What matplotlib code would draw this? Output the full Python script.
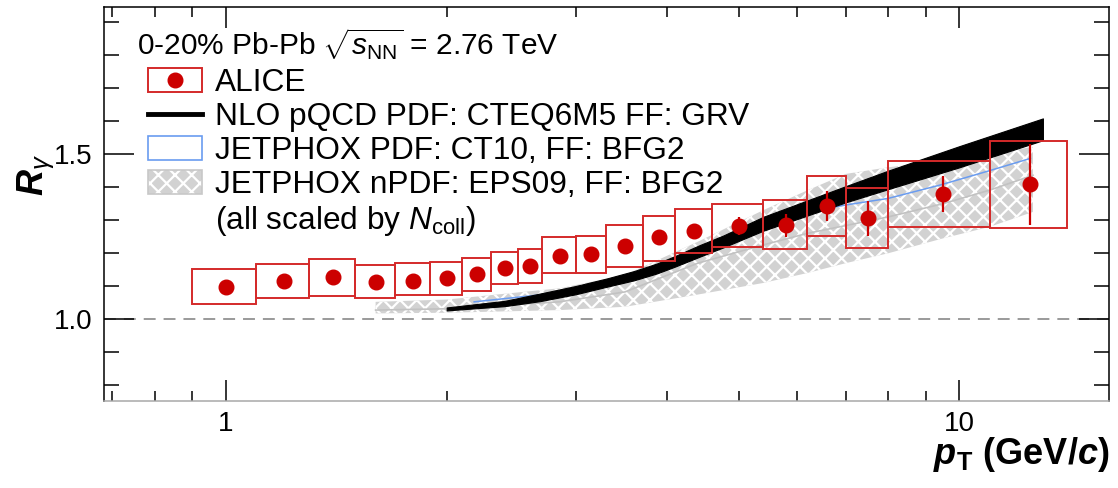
import matplotlib
matplotlib.use("Agg")
import matplotlib.pyplot as plt
import matplotlib.ticker as ticker
import numpy as np
from matplotlib.lines import Line2D
from matplotlib.patches import Rectangle

# ALICE direct photon R_gamma, 0-20% Pb-Pb
pt = [1.0, 1.2, 1.4, 1.6, 1.8, 2.0, 2.2, 2.4, 2.6, 2.85,
      3.15, 3.5, 3.9, 4.35, 5.0, 5.8, 6.6, 7.5, 9.5, 12.5]
r_gamma = [1.099, 1.116, 1.128, 1.112, 1.117, 1.124, 1.137, 1.156, 1.161, 1.192,
           1.197, 1.223, 1.248, 1.267, 1.283, 1.285, 1.343, 1.306, 1.379, 1.409]
stat_err = [0.004, 0.004, 0.004, 0.004, 0.005, 0.005, 0.006, 0.007, 0.008, 0.009,
            0.010, 0.012, 0.015, 0.022, 0.028, 0.035, 0.045, 0.053, 0.055, 0.123]
sys_low = [1.045, 1.064, 1.071, 1.064, 1.074, 1.074, 1.086, 1.106, 1.111, 1.141,
           1.139, 1.157, 1.178, 1.202, 1.220, 1.213, 1.252, 1.215, 1.279, 1.277]
sys_high = [1.151, 1.168, 1.183, 1.164, 1.172, 1.173, 1.185, 1.204, 1.212, 1.248,
            1.253, 1.285, 1.313, 1.333, 1.348, 1.361, 1.434, 1.396, 1.479, 1.540]
bin_edges = [0.9, 1.1, 1.3, 1.5, 1.7, 1.9, 2.1, 2.3, 2.5, 2.7, 3.0,
             3.3, 3.7, 4.1, 4.6, 5.4, 6.2, 7.0, 8.0, 11.0, 14.0]

# NLO pQCD (CTEQ6M5, GRV) band
nlo_pt = [2.0, 2.4, 2.68, 3.0, 3.31, 3.6, 3.87, 4.1, 4.43, 4.77, 5.4, 7.0, 8.0, 10.0, 13.0]
nlo_low = [1.027, 1.040, 1.055, 1.076, 1.099, 1.118, 1.139, 1.160, 1.190, 1.218,
           1.268, 1.354, 1.394, 1.460, 1.542]
nlo_high = [1.036, 1.056, 1.078, 1.101, 1.124, 1.146, 1.169, 1.192, 1.225, 1.254,
            1.310, 1.403, 1.450, 1.524, 1.608]

# JETPHOX CT10, BFG2
ct10_pt = [2.18, 2.68, 3.31, 3.87, 4.62, 5.4, 6.2, 7.0, 8.0, 9.4, 11.0, 12.5]
ct10_r = [1.053, 1.074, 1.109, 1.149, 1.220, 1.280, 1.325, 1.346, 1.366, 1.406, 1.450, 1.487]

# JETPHOX nPDF EPS09, BFG2 band and central curve
eps_pt = [1.6, 2.0, 2.85, 3.5, 4.4, 5.4, 6.2, 7.0, 8.0, 9.5, 11.0, 12.6]
eps_low = [1.018, 1.020, 1.028, 1.038, 1.075, 1.110, 1.140, 1.170, 1.200, 1.245, 1.280, 1.325]
eps_high = [1.053, 1.060, 1.094, 1.134, 1.235, 1.330, 1.390, 1.440, 1.460, 1.480, 1.500, 1.522]
eps_mid_pt = [1.6, 2.0, 2.85, 3.5, 4.4, 5.4, 6.2, 8.0, 9.5, 11.0, 12.6]
eps_mid = [1.028, 1.032, 1.053, 1.083, 1.170, 1.225, 1.260, 1.310, 1.350, 1.391, 1.436]

red = "#cc0000"
box_red = "#d42a2a"
blue = "#6a9cf0"
gray = "#d2d2d2"

plt.rcParams["font.family"] = "Liberation Sans"
plt.rcParams["mathtext.fontset"] = "custom"
plt.rcParams["mathtext.rm"] = "Liberation Sans"
plt.rcParams["mathtext.it"] = "Liberation Sans:italic"
plt.rcParams["mathtext.bf"] = "Liberation Sans:italic:bold"
plt.rcParams["mathtext.sf"] = "Liberation Sans:bold"
plt.rcParams["hatch.linewidth"] = 1.6

fig = plt.figure(figsize=(11.18, 4.88), dpi=100)
ax = fig.add_axes([0.0926, 0.1783, 0.8994, 0.808])

# theory curves
ax.fill_between(eps_pt, eps_low, eps_high, facecolor=gray, edgecolor="white",
                hatch="xx", linewidth=0, zorder=1)
ax.plot(eps_mid_pt, eps_mid, color="#c2c2c2", lw=1.2, zorder=2)
ax.plot(ct10_pt, ct10_r, color=blue, lw=1.1, zorder=3)
ax.fill_between(nlo_pt, nlo_low, nlo_high, color="black", lw=0.8, zorder=4)

ax.axhline(1.0, color="#7f7f7f", lw=1.1, dashes=(7.8, 5.2), zorder=0)

# systematic boxes
for i in range(len(pt)):
  ax.add_patch(Rectangle((bin_edges[i], sys_low[i]), bin_edges[i + 1] - bin_edges[i],
                         sys_high[i] - sys_low[i], fill=False, edgecolor=box_red,
                         lw=1.4, zorder=5))
ax.errorbar(pt, r_gamma, yerr=stat_err, fmt="o", color=red, ms=10.5,
            elinewidth=1.6, capsize=0, zorder=6)

ax.set_xscale("log")
ax.set_xlim(0.681, 16.0)
ax.set_ylim(0.753, 1.946)
ax.xaxis.set_major_locator(ticker.LogLocator(base=10, numticks=10))
ax.xaxis.set_minor_locator(ticker.LogLocator(base=10, subs=np.arange(2, 10), numticks=20))
ax.xaxis.set_major_formatter(ticker.FormatStrFormatter("%g"))
ax.xaxis.set_minor_formatter(ticker.NullFormatter())
ax.yaxis.set_major_locator(ticker.MultipleLocator(0.5))
ax.yaxis.set_minor_locator(ticker.MultipleLocator(0.1))
ax.yaxis.set_major_formatter(ticker.FormatStrFormatter("%.1f"))

ax.tick_params(which="both", direction="in", top=True, right=True, width=1.1, labelsize=20)
ax.tick_params(axis="x", which="major", length=15, pad=7)
ax.tick_params(axis="x", which="minor", length=7.5)
ax.tick_params(axis="y", which="major", length=21.6, pad=8)
ax.tick_params(axis="y", which="minor", length=10.8)
for side in ["top", "left", "right"]:
  ax.spines[side].set_linewidth(1.1)
ax.spines["bottom"].set_color("#a8a8a8")
ax.spines["bottom"].set_linewidth(1.1)

ax.set_xlabel(r"$\mathbf{p}_{\mathsf{T}}$ (GeV/$\mathbf{c}$)", fontsize=26,
              fontweight="bold", ha="right", va="top")
ax.xaxis.set_label_coords(1.0, -0.085)
ax.set_ylabel(r"$\mathbf{R}_{\gamma}$", fontsize=26)
ax.yaxis.set_label_coords(-0.046, 0.573)

ax.text(0.0333, 0.8775, r"0-20% Pb-Pb $\sqrt{s_{\rm NN}}$ = 2.76 TeV",
        transform=ax.transAxes, fontsize=21.5, va="baseline")

handles = [
  (Rectangle((0, 0), 1, 1, fill=False, edgecolor=box_red, lw=1.4),
   Line2D([], [], marker="o", color=red, ms=10.5, ls="none")),
  Line2D([], [], color="black", lw=3.5),
  Rectangle((0, 0), 1, 1, facecolor="white", edgecolor=blue, lw=1.2),
  (Rectangle((0, 0), 1, 1, facecolor=gray, edgecolor="white", hatch="xx", lw=0),
   Rectangle((0, 0), 1, 1, fill=False, edgecolor="#c8c8c8", lw=1.2)),
  Line2D([], [], alpha=0),
]
labels = [
  "ALICE",
  "NLO pQCD PDF: CTEQ6M5 FF: GRV",
  "JETPHOX PDF: CT10, FF: BFG2",
  "JETPHOX nPDF: EPS09, FF: BFG2",
  r"(all scaled by $N_{\rm coll}$)",
]
ax.legend(handles, labels, loc="upper left", bbox_to_anchor=(0.0443, 0.844),
          frameon=False, fontsize=22.8, handlelength=1.70, handleheight=0.79,
          handletextpad=0.41, labelspacing=0.123, borderpad=0, borderaxespad=0)

fig.savefig("out.png", dpi=100)
